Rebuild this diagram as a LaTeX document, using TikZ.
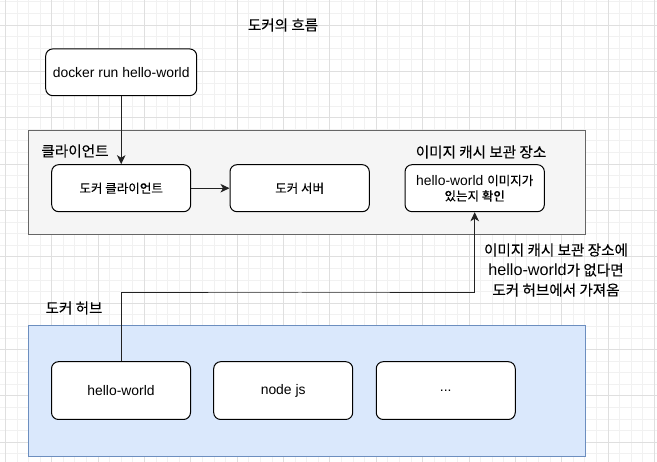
\documentclass[tikz,border=0pt]{standalone}
\usepackage{fontspec}
\setmainfont{Liberation Sans}
\newfontfamily\kr{Noto Sans CJK KR}[Scale=0.9,FakeBold=0.15]
\usetikzlibrary{arrows.meta}
\definecolor{gridminor}{HTML}{F1F1F1}
\definecolor{gridmajor}{HTML}{DFDFDF}
\definecolor{clientfill}{HTML}{F5F5F5}
\definecolor{clientline}{HTML}{666666}
\definecolor{hubfill}{HTML}{DAE8FC}
\definecolor{hubline}{HTML}{6C8EBF}
\definecolor{wire}{HTML}{222222}
\newcommand\fsbox{\fontsize{13.9}{16}\selectfont}
\newcommand\fslab{\fontsize{16.2}{20}\selectfont}
\tikzset{
  stepbox/.style={draw=black, fill=white, rounded corners=7pt, line width=1pt,
    minimum width=139pt, minimum height=47pt, inner sep=0pt, align=center, font=\fsbox},
  container/.style={draw, line width=1pt, inner sep=0pt},
  lab/.style={inner sep=0pt, align=center, font=\fslab},
  conn/.style={draw=wire, line width=1pt, -{Stealth[length=9pt,width=8.5pt,inset=2.5pt]}},
}
\begin{document}
\begin{tikzpicture}[x=1pt,y=-1pt]
\useasboundingbox (0,0) rectangle (657,462);
\fill[white] (0,0) rectangle (657,462);
% grid
\foreach \i in {0,...,56} {
  \pgfmathsetmacro\xx{5.34+\i*11.59}
  \draw[gridminor, line width=0.8pt] (\xx,0) -- (\xx,462);
}
\foreach \i in {0,...,40} {
  \pgfmathsetmacro\yy{1.82+\i*11.59}
  \draw[gridminor, line width=0.8pt] (0,\yy) -- (657,\yy);
}
\foreach \i in {0,...,14} {
  \pgfmathsetmacro\xx{5.34+\i*46.36}
  \draw[gridmajor, line width=0.8pt] (\xx,0) -- (\xx,462);
}
\foreach \i in {0,...,9} {
  \pgfmathsetmacro\yy{25+\i*46.36}
  \draw[gridmajor, line width=0.8pt] (0,\yy) -- (657,\yy);
}

% title
\node[lab] (title) at (283,25) {\kr 도커의 흐름};

% client container
\node[container, draw=clientline, fill=clientfill, minimum width=556.7pt, minimum height=104pt] (client) at (306.65,182.5) {};
\node[lab] (clientlab) at (75,151) {\kr 클라이언트};
\node[lab] (cachelab) at (481,152) {\kr 이미지 캐시 보관 장소};

% hub container
\node[container, draw=hubline, fill=hubfill, minimum width=557.2pt, minimum height=131.2pt] (hub) at (306.7,390.8) {};
\node[lab] (hublab) at (74,308) {\kr 도커 허브};

% boxes
\node[stepbox, minimum width=151pt, minimum height=46.7pt] (run) at (121.2,72.3) {docker run hello-world};
\node[stepbox] (dc) at (121.2,188.2) {\kr 도커 클라이언트};
\node[stepbox, minimum width=139.3pt] (ds) at (299.65,188.2) {\kr 도커 서버};
\node[stepbox, minimum width=139.3pt, font=\fontsize{13.9}{15.5}\selectfont] (check) at (474.7,188.2) {hello-world {\kr 이미지가}\\{\kr 있는지 확인}};
\node[stepbox, minimum height=57.8pt] (hw) at (121,390.6) {hello-world};
\node[stepbox, minimum height=57.8pt] (nj) at (283.2,390.6) {node js};
\node[stepbox, minimum height=57.8pt] (dots) at (445.75,390.6) {...};

% connectors
\draw[conn] (run.south) -- (dc.north);
\draw[conn] (dc.east) -- (ds.west);
\coordinate (turn) at (300,293);
\draw[conn] (hw.north) |- (turn) -| (check.south);

% connector label
\node[lab] (pull) at (556,270) {{\kr 이미지 캐시 보관 장소에}\\hello-world{\kr 가 없다면}\\{\kr 도커 허브에서 가져옴}};
\end{tikzpicture}
\end{document}
